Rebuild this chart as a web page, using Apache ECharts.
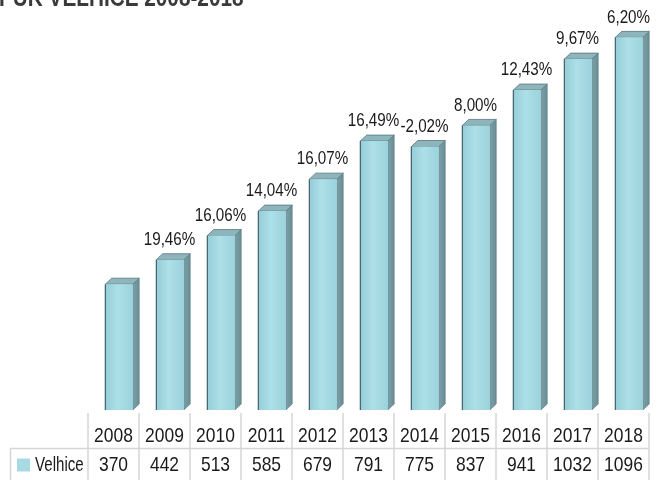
<!DOCTYPE html>
<html>
<head>
<meta charset="utf-8">
<script src="https://cdn.jsdelivr.net/npm/echarts@6/dist/echarts.min.js"></script>
<style>
html,body{margin:0;padding:0;background:#fff;}
#chart{width:657px;height:480px;}
</style>
</head>
<body>
<div id="chart"></div>
<script>
const years = ['2008','2009','2010','2011','2012','2013','2014','2015','2016','2017','2018'];
const values = [370, 442, 513, 585, 679, 791, 775, 837, 941, 1032, 1096];
const changes = ['', '19,46%', '16,06%', '14,04%', '16,07%', '16,49%', '-2,02%', '8,00%', '12,43%', '9,67%', '6,20%'];
const seriesName = 'Velhice';
const titleText = 'PUK VELHICE 2008-2018';

const FONT = '"Liberation Sans", Arial, sans-serif';
const NARROW = 0.83;

const chart = echarts.init(document.getElementById('chart'), null, {renderer: 'canvas'});

function narrowText(txt, x, y, size, scale, align) {
  return { type: 'text', x: x, y: y, scaleX: scale,
    style: { text: txt, x: 0, y: 0, textAlign: align || 'center', textVerticalAlign: 'middle',
      fill: '#1a1a1a', font: size + 'px ' + FONT } };
}

function renderBar(params, api) {
  const idx = params.dataIndex;
  const top = api.coord([api.value(0), api.value(1)]);
  const base = api.coord([api.value(0), 0]);
  const bw = api.size([1, 0])[0];
  const cx = top[0];
  const x0 = cx - bw * 0.16;
  const x1 = x0 + bw * 0.54;
  const dx = bw * 0.125;
  const dy = 6;
  const yT = top[1];
  const yB = base[1];
  const children = [
    { type: 'polygon', shape: { points: [[x1, yT], [x1 + dx, yT - dy], [x1 + dx, yB - dy], [x1, yB]] },
      style: { fill: new echarts.graphic.LinearGradient(0, 0, 1, 0, [{offset: 0, color: '#7ea2a9'}, {offset: 1, color: '#688c93'}]), stroke: '#5f8188', lineWidth: 0.6 } },
    { type: 'polygon', shape: { points: [[x0, yT], [x0 + dx, yT - dy], [x1 + dx, yT - dy], [x1, yT]] },
      style: { fill: '#8fb5bc', stroke: '#55767d', lineWidth: 0.8 } },
    { type: 'rect', shape: { x: x0, y: yT, width: x1 - x0, height: yB - yT },
      style: { fill: new echarts.graphic.LinearGradient(0, 0, 1, 0, [{offset: 0, color: '#95cdd8'}, {offset: 0.45, color: '#ade0e8'}, {offset: 1, color: '#9bd2dc'}]), stroke: null } },
    { type: 'line', shape: { x1: x0, y1: yT, x2: x0, y2: yB }, style: { stroke: '#3f6168', lineWidth: 1.2 } },
    narrowText(years[idx], cx, 436.7, 21, NARROW),
    narrowText(String(values[idx]), cx, 465.2, 21, NARROW)
  ];
  if (changes[idx]) {
    children.push(narrowText(changes[idx], cx + 5, yT - 20, 19, 0.8));
  }
  return { type: 'group', children: children };
}

chart.setOption({
  animation: false,
  backgroundColor: '#ffffff',
  grid: [
    { left: 88, right: 8, top: 2, bottom: 70 },
    { left: 88, right: 8, top: 413, bottom: 0 }
  ],
  xAxis: [
    { type: 'category', gridIndex: 0, data: years, axisLine: {show: false}, axisTick: {show: false},
      axisLabel: { show: false } },
    { type: 'category', gridIndex: 1, data: years, axisLine: {show: false}, axisTick: {show: false},
      axisLabel: {show: false}, splitLine: { show: true, lineStyle: { color: '#d6d6d6', width: 1.5 } } }
  ],
  yAxis: [
    { type: 'value', gridIndex: 0, min: 0, max: 1200, show: false },
    { type: 'value', gridIndex: 1, min: 0, max: 1, show: false }
  ],
  series: [
    { name: seriesName, type: 'custom', xAxisIndex: 0, yAxisIndex: 0,
      itemStyle: { color: '#a7dae3' },
      data: values.map((v, i) => [i, v]), encode: { x: 0, y: 1 },
      renderItem: renderBar, clip: false }
  ],
  graphic: [
    { type: 'text', x: -1, y: -1, scaleX: 0.83, silent: true,
      style: { text: titleText, x: 0, y: 0, textVerticalAlign: 'middle', font: 'bold 25px ' + FONT, fill: '#3a3a3a' } },
    { type: 'line', shape: { x1: 10, y1: 448.5, x2: 649, y2: 448.5 }, style: { stroke: '#d6d6d6', lineWidth: 1.5 } },
    { type: 'line', shape: { x1: 10.5, y1: 448, x2: 10.5, y2: 480 }, style: { stroke: '#d6d6d6', lineWidth: 1.5 } },
    { type: 'rect', shape: { x: 17, y: 458.5, width: 13, height: 13 }, style: { fill: '#a7dae3' } },
    { type: 'text', x: 35, y: 465.2, scaleX: 0.72,
      style: { text: seriesName, x: 0, y: 0, textVerticalAlign: 'middle', font: '21px ' + FONT, fill: '#1a1a1a' } }
  ]
});
</script>
</body>
</html>
